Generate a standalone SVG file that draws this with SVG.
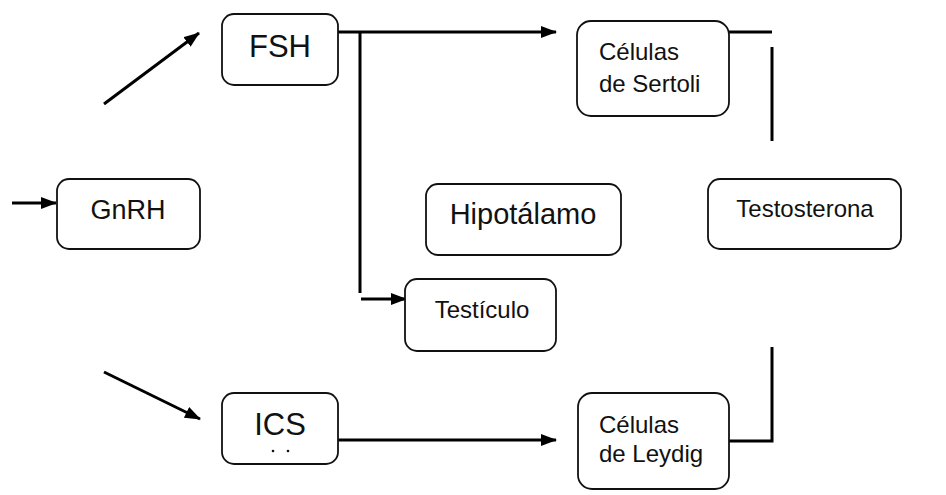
<svg xmlns="http://www.w3.org/2000/svg" width="946" height="495" viewBox="0 0 946 495">
<defs>
<marker id="ah" viewBox="0 0 16 12" refX="15" refY="6" markerWidth="16" markerHeight="12" orient="auto" markerUnits="userSpaceOnUse">
<path d="M0 0 L16 6 L0 12 Z" fill="#000"/>
</marker>
</defs>
<style>
.box{fill:#fff;stroke:#111;stroke-width:1.8}
.t{font-family:"Liberation Sans",Arial,sans-serif;fill:#111}
.c{stroke:#000;stroke-width:3;fill:none}
.a{marker-end:url(#ah)}
</style>
<rect width="946" height="495" fill="#fff"/>
<g id="connectors">
<line class="c a" x1="12" y1="203" x2="56" y2="203"/>
<line class="c a" x1="104" y1="104" x2="199" y2="33"/>
<line class="c a" x1="104" y1="372" x2="200" y2="419"/>
<line class="c a" x1="338" y1="32" x2="556" y2="32"/>
<line class="c" x1="360" y1="32" x2="360" y2="293"/>
<line class="c a" x1="361" y1="299" x2="406" y2="299"/>
<line class="c a" x1="338" y1="440" x2="556" y2="440"/>
<line class="c" x1="729" y1="32" x2="772" y2="32"/>
<line class="c" x1="772" y1="47" x2="772" y2="141"/>
<polyline class="c" points="729,441 772,441 772,347"/>
</g>
<g id="gnrh">
<rect class="box" x="57" y="179" width="143" height="70" rx="12"/>
<text class="t" x="128" y="219" font-size="27" text-anchor="middle">GnRH</text>
</g>
<g id="fsh">
<rect class="box" x="222" y="14" width="116" height="71" rx="12"/>
<text class="t" x="280" y="57" font-size="31" text-anchor="middle">FSH</text>
</g>
<g id="ics">
<rect class="box" x="222" y="393" width="116" height="71" rx="12"/>
<text class="t" x="280" y="435" font-size="31" text-anchor="middle">ICS</text>
<circle cx="273" cy="451" r="1.3" fill="#111"/>
<circle cx="288" cy="451" r="1.3" fill="#111"/>
</g>
<g id="sertoli">
<rect class="box" x="577" y="21" width="152" height="95" rx="14"/>
<text class="t" x="599" y="60" font-size="24">Células</text>
<text class="t" x="599" y="92" font-size="24">de Sertoli</text>
</g>
<g id="hipotalamo">
<rect class="box" x="426" y="184" width="195" height="71" rx="12"/>
<text class="t" x="523" y="224" font-size="29" text-anchor="middle">Hipotálamo</text>
</g>
<g id="testosterona">
<rect class="box" x="708" y="179" width="193" height="70" rx="12"/>
<text class="t" x="805" y="217" font-size="24" text-anchor="middle">Testosterona</text>
</g>
<g id="testiculo">
<rect class="box" x="405" y="279" width="151" height="72" rx="12"/>
<text class="t" x="482" y="318" font-size="24" text-anchor="middle">Testículo</text>
</g>
<g id="leydig">
<rect class="box" x="578" y="393" width="151" height="96" rx="14"/>
<text class="t" x="599" y="433" font-size="24">Células</text>
<text class="t" x="599" y="462" font-size="24">de Leydig</text>
</g>
</svg>
